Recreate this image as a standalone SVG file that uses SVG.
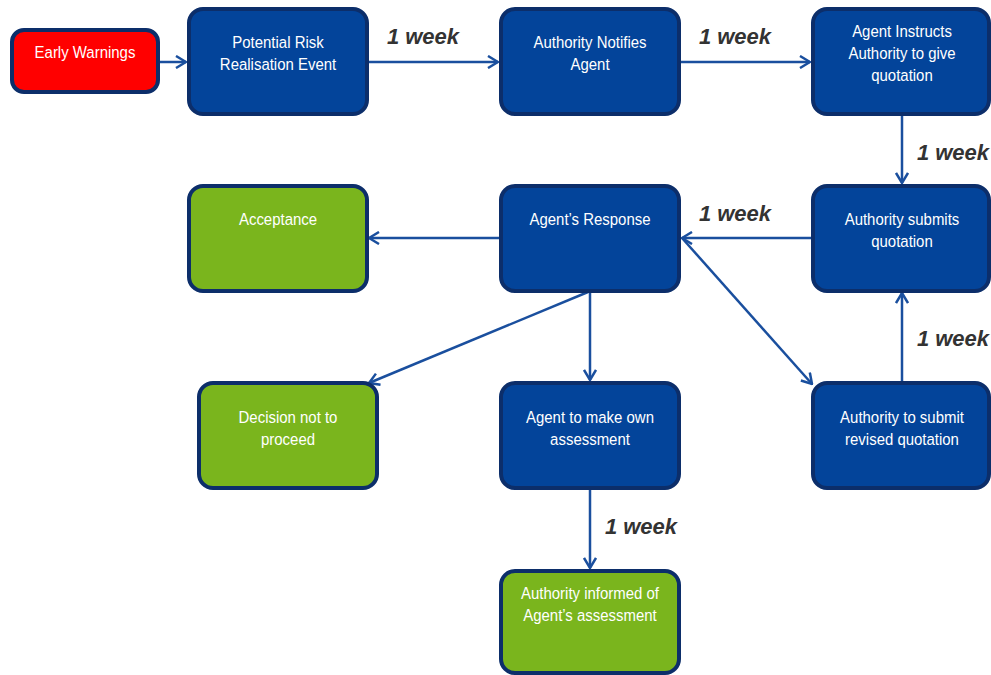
<svg xmlns="http://www.w3.org/2000/svg" width="991" height="675" viewBox="0 0 991 675">
<defs>
<style>
.box{stroke:#0c2e6a;stroke-width:4}
.blue{fill:#03449a}
.green{fill:#7ab51d}
.red{fill:#ff0000}
.t{font-family:"Liberation Sans",Arial,sans-serif;font-size:17px;fill:#ffffff;text-anchor:middle}
.lbl{font-family:"Liberation Sans",Arial,sans-serif;font-size:22px;font-weight:bold;font-style:italic;fill:#333333;text-anchor:middle}
.c{stroke:#1a4f9e;stroke-width:2.5;fill:none;marker-end:url(#ah)}
</style>
<marker id="ah" viewBox="0 0 12 14" refX="11" refY="7" markerWidth="12" markerHeight="14" markerUnits="userSpaceOnUse" orient="auto">
<path d="M1,1 L11,7 L1,13" fill="none" stroke="#1a4f9e" stroke-width="2.5"/>
</marker>
</defs>
<rect width="991" height="675" fill="#ffffff"/>
<g id="connectors">
<line class="c" x1="158" y1="62" x2="186" y2="62"/>
<line class="c" x1="367" y1="62" x2="498" y2="62"/>
<line class="c" x1="680" y1="62" x2="810" y2="62"/>
<line class="c" x1="902" y1="114" x2="902" y2="183"/>
<line class="c" x1="812" y1="238" x2="682" y2="238"/>
<line class="c" x1="500" y1="238" x2="369" y2="238"/>
<line class="c" x1="588" y1="292" x2="369" y2="383"/>
<line class="c" x1="590" y1="291" x2="590" y2="380"/>
<line class="c" x1="682" y1="238" x2="812" y2="384"/>
<line class="c" x1="902" y1="382" x2="902" y2="293"/>
<line class="c" x1="590" y1="489" x2="590" y2="568"/>
<text class="lbl" x="423" y="44">1 week</text>
<text class="lbl" x="735" y="44">1 week</text>
<text class="lbl" x="953" y="160">1 week</text>
<text class="lbl" x="735" y="221">1 week</text>
<text class="lbl" x="953" y="346">1 week</text>
<text class="lbl" x="641" y="534">1 week</text>
</g>
<g id="early-warnings"><rect class="box red" x="12" y="30" width="146" height="62" rx="12"/><g transform="translate(85 0) scale(0.88 1)"><text class="t" x="0" y="58">Early Warnings</text></g></g>
<g id="potential-risk"><rect class="box blue" x="189" y="9" width="178" height="105" rx="14"/><g transform="translate(278 0) scale(0.88 1)"><text class="t" x="0" y="48">Potential Risk</text><text class="t" x="0" y="70">Realisation Event</text></g></g>
<g id="authority-notifies"><rect class="box blue" x="501" y="9" width="178" height="105" rx="14"/><g transform="translate(590 0) scale(0.88 1)"><text class="t" x="0" y="48">Authority Notifies</text><text class="t" x="0" y="70">Agent</text></g></g>
<g id="agent-instructs"><rect class="box blue" x="813" y="9" width="176" height="105" rx="14"/><g transform="translate(902 0) scale(0.88 1)"><text class="t" x="0" y="37">Agent Instructs</text><text class="t" x="0" y="59">Authority to give</text><text class="t" x="0" y="81">quotation</text></g></g>
<g id="acceptance"><rect class="box green" x="189" y="186" width="178" height="105" rx="14"/><g transform="translate(278 0) scale(0.88 1)"><text class="t" x="0" y="225">Acceptance</text></g></g>
<g id="agents-response"><rect class="box blue" x="501" y="186" width="178" height="105" rx="14"/><g transform="translate(590 0) scale(0.88 1)"><text class="t" x="0" y="225">Agent’s Response</text></g></g>
<g id="authority-submits"><rect class="box blue" x="813" y="186" width="176" height="105" rx="14"/><g transform="translate(902 0) scale(0.88 1)"><text class="t" x="0" y="225">Authority submits</text><text class="t" x="0" y="247">quotation</text></g></g>
<g id="decision"><rect class="box green" x="199" y="383" width="178" height="105" rx="14"/><g transform="translate(288 0) scale(0.88 1)"><text class="t" x="0" y="423">Decision not to</text><text class="t" x="0" y="445">proceed</text></g></g>
<g id="agent-own"><rect class="box blue" x="501" y="383" width="178" height="105" rx="14"/><g transform="translate(590 0) scale(0.88 1)"><text class="t" x="0" y="423">Agent to make own</text><text class="t" x="0" y="445">assessment</text></g></g>
<g id="revised"><rect class="box blue" x="813" y="383" width="176" height="105" rx="14"/><g transform="translate(902 0) scale(0.88 1)"><text class="t" x="0" y="423">Authority to submit</text><text class="t" x="0" y="445">revised quotation</text></g></g>
<g id="informed"><rect class="box green" x="501" y="571" width="178" height="102" rx="14"/><g transform="translate(590 0) scale(0.88 1)"><text class="t" x="0" y="599">Authority informed of</text><text class="t" x="0" y="621">Agent’s assessment</text></g></g>
</svg>
